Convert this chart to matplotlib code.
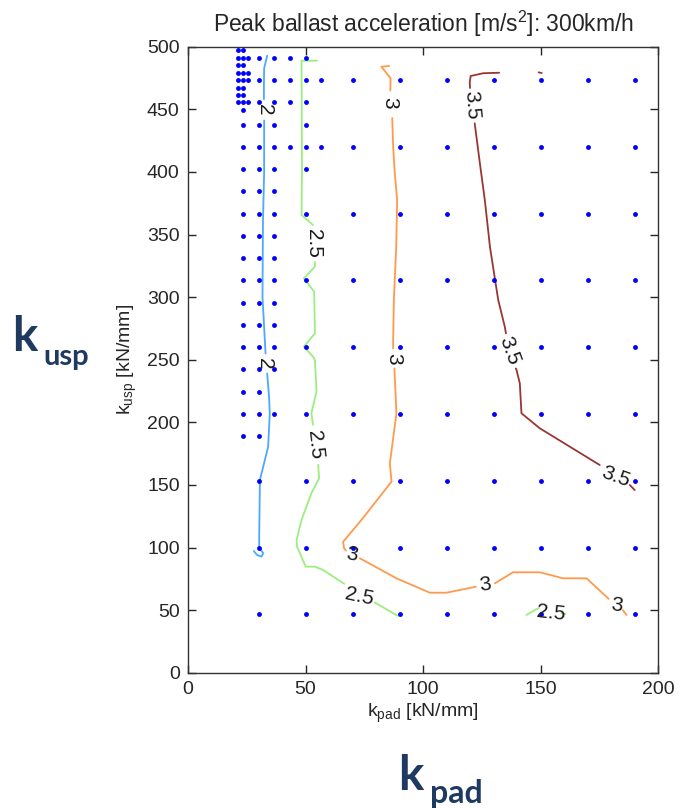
import matplotlib
matplotlib.use("Agg")
import matplotlib.pyplot as plt

plt.rcParams['font.family'] = ['Liberation Sans', 'DejaVu Sans']
plt.rcParams['mathtext.fontset'] = 'custom'
plt.rcParams['mathtext.rm'] = 'Liberation Sans'
plt.rcParams['mathtext.it'] = 'Liberation Sans:italic'

# ---------------- data ----------------
title = "Peak ballast acceleration [m/s$^2$]: 300km/h"
x_label = "k$_{\\mathrm{pad}}$ [kN/mm]"
y_label = "k$_{\\mathrm{usp}}$ [kN/mm]"
x_ticks = [0, 50, 100, 150, 200]
y_ticks = [0, 50, 100, 150, 200, 250, 300, 350, 400, 450, 500]

coarse_x = [90, 110, 130, 150, 170, 190]
fine3 = [23.3, 30, 36.7]
main_left = [23.3, 30, 36.7, 50, 70]
dot_row_y = [497.0, 491.1, 485.2, 479.3, 473.3, 467.4, 461.5, 455.6, 449.6,
             437.8, 420.0, 402.2, 384.4, 366.7, 348.9, 331.1, 313.3, 295.6,
             277.8, 260.0, 242.2, 224.4, 206.7, 188.9, 153.3, 100.0, 46.7]
dot_row_x = [
    [21.1, 23.3],
    [21.1, 23.3, 25.6, 30, 36.7, 43.3, 50],
    [21.1, 23.3],
    [21.1, 23.3, 25.6],
    [21.1, 23.3, 25.6, 30, 36.7, 43.3, 50, 56.7, 70] + coarse_x,
    [21.1, 23.3],
    [21.1, 23.3],
    [21.1, 23.3, 25.6, 30, 36.7, 43.3, 50],
    [23.3],
    [23.3, 30, 36.7, 50],
    [23.3, 30, 36.7, 43.3, 50, 56.7, 70] + coarse_x,
    [23.3, 30, 36.7, 50],
    fine3,
    main_left + coarse_x,
    fine3,
    fine3,
    main_left + coarse_x,
    fine3,
    fine3,
    main_left + coarse_x,
    fine3,
    [23.3, 30],
    main_left + coarse_x,
    [23.3, 30],
    [30, 50, 70] + coarse_x,
    [30, 50, 70] + coarse_x,
    [30, 50, 70] + coarse_x,
]

levels = [2.0, 2.5, 3.0, 3.5]
level_colors = ["#4da8ff", "#9cee80", "#ff9a4d", "#9a3535"]

# contour paths (segments between inline labels)
level_segments = {
    2.0: [
        [(33.7, 492.8), (32.4, 482.7), (32.3, 470), (32.3, 458)],
        [(32.4, 441), (32.4, 400), (31.9, 360), (31.7, 300), (33.0, 255)],
        [(33.7, 239), (34.5, 220), (34.8, 207), (34.1, 180.5), (30.6, 153.9),
         (30.3, 108.6), (30.3, 100), (32.0, 95.4), (31.3, 92.7), (29.4, 94.0),
         (28.0, 97.2)],
    ],
    2.5: [
        [(54.9, 488.8), (48.3, 488.8), (48.4, 450), (48.5, 400), (48.3, 365.6),
         (53.2, 357.6)],
        [(54.0, 328), (54.0, 324.3), (49.3, 315), (53.7, 304.3), (54.0, 271),
         (49.3, 260.4), (53.2, 252.4), (54.0, 249.7), (54.7, 224.4),
         (52.5, 207.2), (53.2, 198)],
        [(55.4, 166), (55.8, 155.3), (52.5, 143.3), (48.3, 122), (46.2, 106),
         (46.4, 100.6), (50.1, 84.7), (54.0, 84.7), (57.5, 82), (66.5, 71)],
        [(79.5, 56.0), (89.4, 45.3)],
        [(144.0, 46.1), (148.0, 50.5), (149.2, 51.6)],
        [(159.0, 47.4), (160.6, 46.9)],
    ],
    3.0: [
        [(85.6, 484.6), (82.3, 484.0), (86.2, 474.8), (86.1, 465)],
        [(86.9, 443), (87.3, 420.1), (88.0, 398.9), (89.0, 377.6), (88.6, 340),
         (87.6, 297.8), (87.3, 265.7), (87.3, 259)],
        [(87.8, 243), (88.0, 236.4), (88.7, 207.2), (85.9, 167.2), (86.6, 152.6),
         (73.8, 122), (66.0, 104.6), (66.4, 99.4), (67.2, 97.5)],
        [(73.1, 91.4), (88.7, 75.4), (102.9, 63.9), (110.0, 63.9), (121.3, 68.2),
         (122.5, 68.8)],
        [(130.6, 71.4), (138.3, 80.2), (149.7, 80.2), (159.6, 75.4),
         (169.6, 75.4), (179.0, 59)],
        [(185.0, 50.0), (186.6, 46.1)],
    ],
    3.5: [
        [(132.4, 479.2), (125.6, 478.8), (120.3, 476.6), (119.9, 472), (120.0, 467)],
        [(122.0, 438.8), (124.2, 406.9), (126.3, 377.6), (128.5, 340),
         (132.0, 297.8), (134.8, 276.4), (135.3, 271)],
        [(139.5, 243), (139.8, 241.8), (141.2, 231.1), (141.9, 207.2),
         (149.7, 195.2), (175.2, 165.9)],
        [(188.0, 149.9), (190.1, 145.9)],
        [(149.2, 479.5), (150.5, 479.0)],
    ],
}

# inline labels: (x, y, rotation)
level_labels = {
    2.0: [(32.6, 450, -90), (32.7, 247, -90)],
    2.5: [(53.6, 343, -90), (54.2, 182, -84), (72.8, 61, -12), (154.3, 47.6, -6)],
    3.0: [(85.9, 455, -90), (87.4, 251, -90), (69.8, 94, -10), (126.4, 70.5, 8),
          (182.4, 53.8, -8)],
    3.5: [(120.8, 453, -86), (136.6, 257.5, -70), (182.2, 156.8, -20)],
}

# ---------------- figure ----------------
W, H = 679, 808
fig = plt.figure(figsize=(W / 100, H / 100), dpi=100)
ax = fig.add_axes([188 / W, (H - 672.7) / H, 470 / W, 626 / H])

for y, xs in zip(dot_row_y, dot_row_x):
    ax.plot(xs, [y] * len(xs), linestyle='none', marker='o', ms=3.5,
            color='#0000ff', markeredgewidth=0, zorder=3)

for lev, col in zip(levels, level_colors):
    for seg in level_segments[lev]:
        xs = [p[0] for p in seg]
        ys = [p[1] for p in seg]
        ax.plot(xs, ys, color=col, lw=1.3, zorder=2, solid_capstyle='round')
    lab = f"{lev:g}"
    for (lx, ly, rot) in level_labels[lev]:
        ax.text(lx, ly, lab, rotation=rot, ha='center', va='center',
                fontsize=15, color='#1a1a1a', rotation_mode='anchor', zorder=4)

ax.set_xlim(0, 200)
ax.set_ylim(0, 500)
ax.set_xticks(x_ticks)
ax.set_yticks(y_ticks)
ax.tick_params(direction='in', length=6, width=1, top=True, right=True,
               labelsize=14, colors='#262626', pad=6)
for sp in ax.spines.values():
    sp.set_color('#333333')
    sp.set_linewidth(1.0)

ax.set_title(title, fontsize=16.5, color='#262626', pad=11)
ax.set_xlabel(x_label, fontsize=14, color='#262626', labelpad=3)
ax.set_ylabel(y_label, fontsize=14, color='#262626', labelpad=6)

# big annotation labels
big_color = '#1f3a60'
fig.text(12 / W, 1 - 351 / H, "k", fontsize=34, fontweight='bold',
         color=big_color, family='Lato', ha='left', va='baseline')
fig.text(43 / W, 1 - 365 / H, "usp", fontsize=21, fontweight='bold',
         color=big_color, family='Lato', ha='left', va='baseline')
fig.text(398 / W, 1 - 790 / H, "k", fontsize=34, fontweight='bold',
         color=big_color, family='Lato', ha='left', va='baseline')
fig.text(430 / W, 1 - 803 / H, "pad", fontsize=23, fontweight='bold',
         color=big_color, family='Lato', ha='left', va='baseline')

fig.savefig("out.png", dpi=100)
